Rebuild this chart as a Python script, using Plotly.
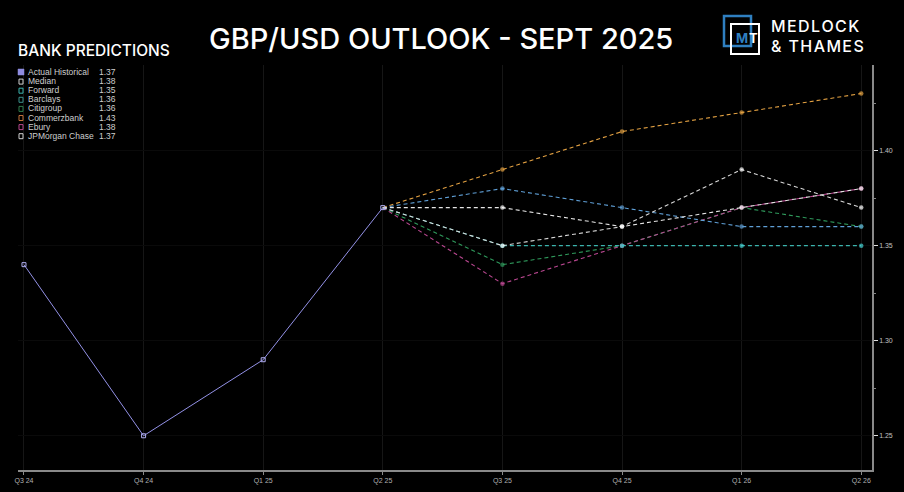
import plotly.graph_objects as go

categories = ["Q3 24", "Q4 24", "Q1 25", "Q2 25", "Q3 25", "Q4 25", "Q1 26", "Q2 26"]
actual_historical = [1.34, 1.25, 1.29, 1.37]
forecast_cats = categories[3:]
median = [1.37, 1.37, 1.36, 1.37, 1.38]
forward = [1.37, 1.35, 1.35, 1.35, 1.35]
barclays = [1.37, 1.38, 1.37, 1.36, 1.36]
citigroup = [1.37, 1.34, 1.35, 1.37, 1.36]
commerzbank = [1.37, 1.39, 1.41, 1.42, 1.43]
ebury = [1.37, 1.33, 1.35, 1.37, 1.38]
jpmorgan = [1.37, 1.35, 1.36, 1.39, 1.37]

W, H = 904, 492
ML, MR, MT, MB = 18, 32, 65, 22
PW, PH = W - ML - MR, H - MT - MB


def px(x):
    return (x - ML) / PW


def py(y):
    return (H - MB - y) / PH


fig = go.Figure()

series = [
    ("Citigroup", citigroup, "#2f9a5c"),
    ("Ebury", ebury, "#b8468f"),
    ("Forward", forward, "#3bb3ad"),
    ("Barclays", barclays, "#5f9fd6"),
    ("Commerzbank", commerzbank, "#e3a142"),
    ("Median", median, "#e6e6e6"),
    ("JPMorgan Chase", jpmorgan, "#d9d9d9"),
]
marker_cols = {"Forward": "#45cfd0", "Median": "#ffffff", "JPMorgan Chase": "#ffffff"}

for name, vals, col in series:
    fig.add_trace(go.Scatter(
        x=forecast_cats, y=vals, mode="lines+markers", name=name,
        line=dict(color=col, width=1.1, dash="4px,3px"),
        marker=dict(size=[0] + [4.5] * (len(vals) - 1), color=marker_cols.get(name, col),
                    line=dict(width=0)),
        showlegend=False,
    ))

fig.add_trace(go.Scatter(
    x=categories[:4], y=actual_historical, mode="lines+markers", name="Actual Historical",
    line=dict(color="#9391e6", width=1),
    marker=dict(symbol="square-open", size=4, color="#b0aef0", line=dict(width=1)),
    showlegend=False,
))

NARROW = "Liberation Sans Narrow, Arial Narrow, sans-serif"

legend_rows = [
    ("Actual Historical", actual_historical[-1], "#8f8ce0", True),
    ("Median", median[-1], "#d0d0d0", False),
    ("Forward", forward[-1], "#3bb3ad", False),
    ("Barclays", barclays[-1], "#3b8f8a", False),
    ("Citigroup", citigroup[-1], "#2f7a4c", False),
    ("Commerzbank", commerzbank[-1], "#c0703a", False),
    ("Ebury", ebury[-1], "#b8468f", False),
    ("JPMorgan Chase", jpmorgan[-1], "#d0d0d0", False),
]
shapes = []
annotations = []
for i, (nm, v, col, filled) in enumerate(legend_rows):
    yc = 72 + i * 9.1
    if filled:
        shapes.append(dict(type="rect", xref="paper", yref="paper",
                           x0=px(18), x1=px(24), y0=py(yc + 3), y1=py(yc - 3),
                           fillcolor=col, line=dict(color=col, width=0.5)))
    else:
        shapes.append(dict(type="rect", xref="paper", yref="paper",
                           x0=px(19), x1=px(23), y0=py(yc + 3), y1=py(yc - 2),
                           fillcolor="rgba(0,0,0,0)", line=dict(color=col, width=1)))
    annotations.append(dict(text=nm, x=px(26), y=py(yc), xref="paper", yref="paper",
                            xanchor="left", yanchor="middle", showarrow=False,
                            font=dict(size=8.5, color="#cfcfcf", family=NARROW)))
    annotations.append(dict(text=f"{v:.2f}", x=px(97), y=py(yc), xref="paper", yref="paper",
                            xanchor="left", yanchor="middle", showarrow=False,
                            font=dict(size=8.5, color="#cfcfcf", family=NARROW)))

annotations.append(dict(text="GBP/USD OUTLOOK - SEPT 2025", x=px(441), y=py(38),
                        xref="paper", yref="paper", xanchor="center", yanchor="middle",
                        showarrow=False,
                        font=dict(size=29, color="#ffffff", weight=500,
                                  family="Inter, Open Sans, sans-serif")))
annotations.append(dict(text="BANK PREDICTIONS", x=px(16), y=py(50),
                        xref="paper", yref="paper", xanchor="left", yanchor="middle",
                        showarrow=False,
                        font=dict(size=15.5, color="#ffffff", weight=500,
                                  family="Inter, Open Sans, sans-serif")))

# Logo
shapes.append(dict(type="rect", xref="paper", yref="paper",
                   x0=px(724), x1=px(751), y0=py(16), y1=py(46),
                   line=dict(color="#2f7fc0", width=2.5), fillcolor="rgba(0,0,0,0)"))
shapes.append(dict(type="rect", xref="paper", yref="paper",
                   x0=px(731), x1=px(759), y0=py(24), y1=py(54),
                   line=dict(color="#ffffff", width=2), fillcolor="rgba(0,0,0,0)"))
annotations.append(dict(text="<b>M</b>", x=px(742), y=py(38), xref="paper", yref="paper",
                        xanchor="center", yanchor="middle", showarrow=False,
                        font=dict(size=13, color="#2f7fc0", family="Inter, sans-serif")))
annotations.append(dict(text="<b>T</b>", x=px(753), y=py(38), xref="paper", yref="paper",
                        xanchor="center", yanchor="middle", showarrow=False,
                        font=dict(size=13, color="#ffffff", family="Inter, sans-serif")))
sp = "\u200a"
annotations.append(dict(text=sp.join("MEDLOCK"), x=px(769), y=py(26), xref="paper", yref="paper",
                        xanchor="left", yanchor="middle", showarrow=False,
                        font=dict(size=16, color="#ffffff", weight=500, family="Inter, sans-serif")))
annotations.append(dict(text=sp.join("& THAMES"), x=px(769), y=py(46), xref="paper", yref="paper",
                        xanchor="left", yanchor="middle", showarrow=False,
                        font=dict(size=16, color="#ffffff", weight=500, family="Inter, sans-serif")))

fig.update_layout(
    width=W, height=H,
    margin=dict(l=ML, r=MR, t=MT, b=MB, autoexpand=False),
    paper_bgcolor="#000000", plot_bgcolor="#000000",
    showlegend=False,
    shapes=shapes, annotations=annotations,
    xaxis=dict(
        type="category", categoryorder="array", categoryarray=categories,
        range=[-0.05, 7.09],
        showgrid=True, gridcolor="#161616", gridwidth=1,
        showline=True, linecolor="#8a8a8a", linewidth=1.5,
        ticks="outside", ticklen=3, tickcolor="#8a8a8a",
        tickfont=dict(size=7, color="#b0b0b0", family=NARROW),
        zeroline=False, fixedrange=True,
    ),
    yaxis=dict(
        side="right", range=[1.232, 1.445],
        tickvals=[1.25, 1.30, 1.35, 1.40], ticktext=["1.25", "1.30", "1.35", "1.40"],
        showgrid=True, gridcolor="#0a0a0a",
        showline=True, linecolor="#8a8a8a", linewidth=1.5,
        ticks="outside", ticklen=4, tickcolor="#dddddd",
        minor=dict(tickvals=[1.275, 1.325, 1.375, 1.425], ticks="outside", ticklen=2,
                   tickcolor="#888888", showgrid=False),
        tickfont=dict(size=7, color="#c0c0c0", family=NARROW),
        zeroline=False, fixedrange=True,
    ),
)

fig.write_html(
    "out.html",
    config={"displayModeBar": False},
    post_script="document.body.style.margin='0';document.body.style.background='#000';",
)
